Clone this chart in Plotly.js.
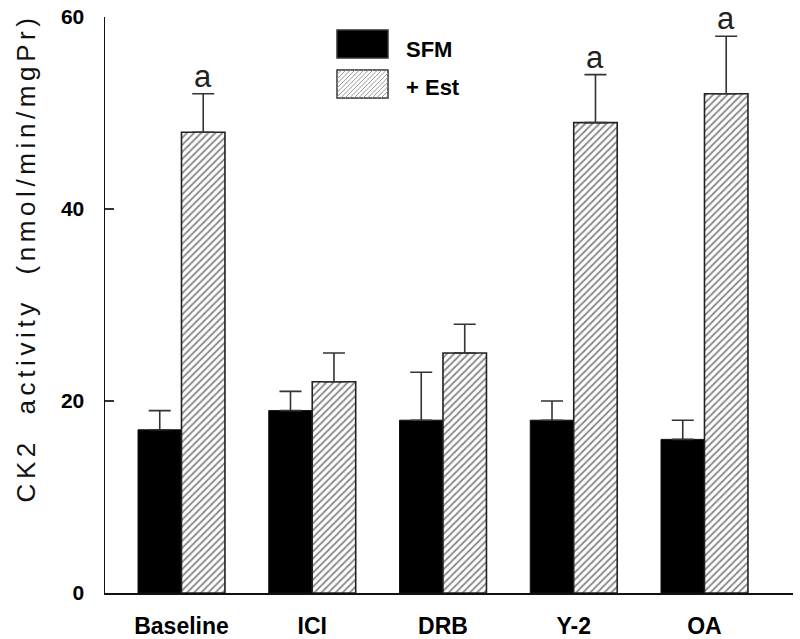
<!DOCTYPE html>
<html><head><meta charset="utf-8">
<script src="https://cdn.plot.ly/plotly-3.0.1.min.js"></script>
<style>
html,body{margin:0;padding:0;background:#fff;}
#chart{width:800px;height:639px;}
g.annotation[data-index="0"] text.annotation-text{letter-spacing:4.6px;text-anchor:start;}
</style></head>
<body><div id="chart"></div>
<script>
const categories = ["Baseline", "ICI", "DRB", "Y-2", "OA"];
const sfmValues = [17, 19, 18, 18, 16];
const sfmErrors = [2, 2, 5, 2, 2];
const estValues = [48, 22, 25, 49, 52];
const estErrors = [4, 3, 3, 5, 6];
const estLetters = ["a", "", "", "a", "a"];
const seriesNames = ["SFM", "+ Est"];
const yTicks = [0, 20, 40, 60];
const yTitle = "CK2  activity  (nmol/min/mgPr)";

const FONT = "Liberation Sans, Arial, sans-serif";

const traces = [
  {
    type: "bar", name: seriesNames[0], x: categories, y: sfmValues,
    marker: {color: "#000", line: {color: "#111", width: 1}},
    error_y: {type: "data", symmetric: false, array: sfmErrors, arrayminus: sfmErrors.map(() => 0),
              color: "#333", thickness: 1.6, width: 11},
    showlegend: false
  },
  {
    type: "bar", name: seriesNames[1], x: categories, y: estValues,
    marker: {color: "#fff", line: {color: "#222", width: 1.6},
             pattern: {shape: "/", fgcolor: "#888", bgcolor: "#fff", size: 5, solidity: 0.35}},
    error_y: {type: "data", symmetric: false, array: estErrors, arrayminus: estErrors.map(() => 0),
              color: "#333", thickness: 1.6, width: 11},
    showlegend: false
  }
];

const annotations = [];
// y-axis title as rotated annotation (index 0): starts at its anchor and runs upward (CSS)
annotations.push({xref: "paper", yref: "paper", x: (26 - 105) / 688, y: (593 - 503) / 576,
  xanchor: "center", yanchor: "middle", showarrow: false, textangle: -90, text: yTitle,
  font: {family: FONT, size: 26, color: "#111"}});

categories.forEach((c, i) => {
  if (estLetters[i]) {
    annotations.push({x: c, y: estValues[i] + estErrors[i], xref: "x", yref: "y",
      text: estLetters[i], showarrow: false, xshift: 21.75, yshift: -2, yanchor: "bottom",
      font: {family: FONT, size: 31, color: "#222"}});
  }
});

// Hand-drawn legend (paper-anchored, pixel sized)
const shapes = [];
const legendAnchorX = (337 - 105) / 688;
const legendRows = [(593 - 58) / 576, (593 - 98) / 576];
const W = 51, H = 28;
legendRows.forEach((ya, r) => {
  shapes.push({type: "rect", xref: "paper", yref: "paper", xsizemode: "pixel", ysizemode: "pixel",
    xanchor: legendAnchorX, yanchor: ya, x0: 0, x1: W, y0: 0, y1: H,
    fillcolor: r === 0 ? "#000" : "#fff", line: {color: "#333", width: 1.5}});
  if (r === 1) {
    let p = "";
    for (let c = -H; c < W; c += 4.5) {
      const x0 = Math.max(0, c), x1 = Math.min(W, H + c);
      if (x1 <= x0) continue;
      p += `M${x0},${x0 - c}L${x1},${x1 - c}`;
    }
    shapes.push({type: "path", xref: "paper", yref: "paper", xsizemode: "pixel", ysizemode: "pixel",
      xanchor: legendAnchorX, yanchor: ya, path: p, line: {color: "#999", width: 1}});
  }
});
annotations.push({xref: "paper", yref: "paper", x: (404 - 105) / 688, y: (593 - 50) / 576,
  xanchor: "left", yanchor: "middle", showarrow: false, text: seriesNames[0],
  font: {family: FONT, size: 22, color: "#000", weight: "bold"}});
annotations.push({xref: "paper", yref: "paper", x: (404 - 105) / 688, y: (593 - 87) / 576,
  xanchor: "left", yanchor: "middle", showarrow: false, text: seriesNames[1],
  font: {family: FONT, size: 22, color: "#000", weight: "bold"}});

const layout = {
  width: 800, height: 639,
  margin: {l: 105, r: 7, t: 17, b: 46, pad: 0},
  paper_bgcolor: "#fff", plot_bgcolor: "#fff",
  barmode: "group", bargap: 0.335, bargroupgap: 0,
  showlegend: false,
  xaxis: {
    range: [-0.585, 4.677], showline: true, linecolor: "#111", linewidth: 1.5,
    ticks: "", showgrid: false, zeroline: false, ticklabelstandoff: 12,
    tickfont: {family: FONT, size: 23, color: "#000", weight: "bold"}
  },
  yaxis: {
    range: [0, 60], tickvals: yTicks, ticktext: yTicks.map(String),
    showline: true, linecolor: "#111", linewidth: 1.5,
    ticks: "inside", ticklen: 9, tickwidth: 1.3, tickcolor: "#333",
    showgrid: false, zeroline: false, ticklabelstandoff: 15,
    tickfont: {family: FONT, size: 21, color: "#000", weight: "bold"}
  },
  annotations: annotations,
  shapes: shapes
};

Plotly.newPlot("chart", traces, layout, {displayModeBar: false, staticPlot: true});
</script></body></html>
